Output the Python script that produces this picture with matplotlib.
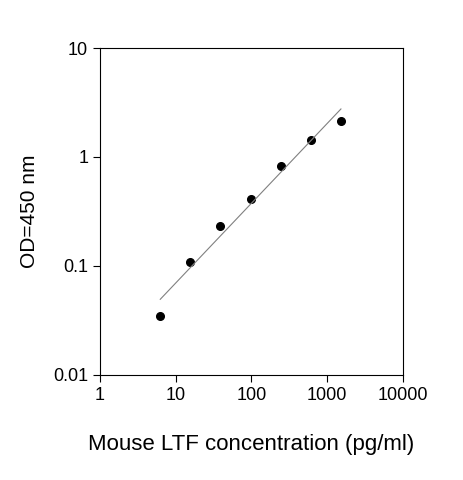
import numpy as np
import matplotlib
matplotlib.use("Agg")
import matplotlib.pyplot as plt

plt.rcParams['font.family'] = ['Liberation Sans', 'DejaVu Sans']

# standard curve
conc = [6.25, 15.6, 39, 97.5, 244, 609, 1523]
od = [0.035, 0.109, 0.233, 0.41, 0.83, 1.43, 2.15]

fig = plt.figure(figsize=(4.63, 4.8), dpi=100)
ax = fig.add_axes([0.216, 0.219, 0.654, 0.681])

ax.plot(conc, od, 'o', color='black', markersize=5.5)

# power fit in log space
k, b = np.polyfit(np.log10(conc), np.log10(od), 1)
xf = np.array([conc[0], conc[-1]])
ax.plot(xf, 10 ** (k * np.log10(xf) + b), '-', color='gray', linewidth=0.8)

ax.set_xscale('log')
ax.set_yscale('log')
ax.set_xlim(1, 10000)
ax.set_ylim(0.01, 10)
ax.set_xticks([1, 10, 100, 1000, 10000])
ax.set_xticklabels(['1', '10', '100', '1000', '10000'])
ax.set_yticks([0.01, 0.1, 1, 10])
ax.set_yticklabels(['0.01', '0.1', '1', '10'])
ax.minorticks_off()
ax.tick_params(direction='out', labelsize=13, length=5)

ax.set_xlabel('Mouse LTF concentration (pg/ml)', fontsize=16, labelpad=22)
ax.set_ylabel('OD=450 nm', fontsize=15, labelpad=10)

fig.savefig('out.png', dpi=100)
